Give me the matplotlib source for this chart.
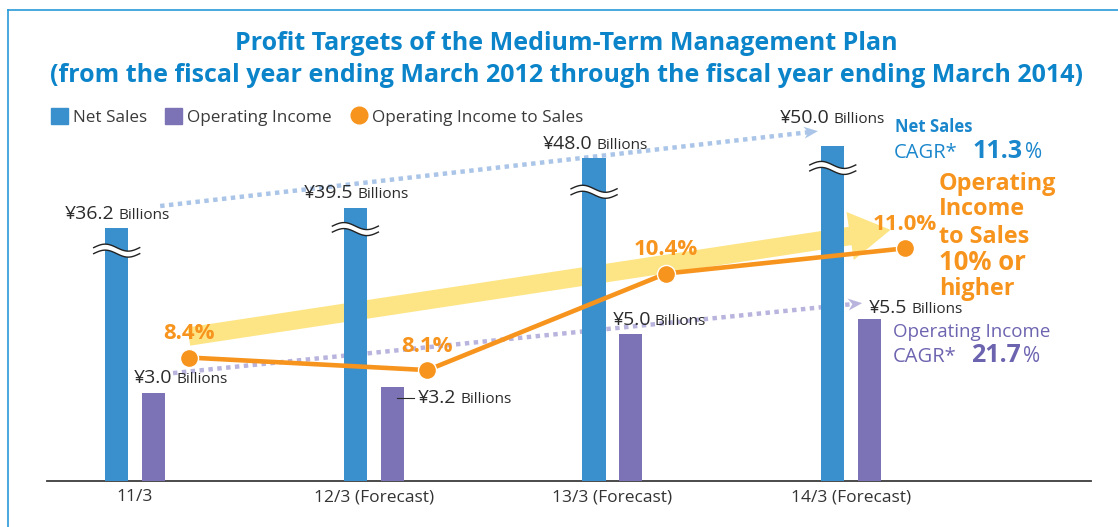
import numpy as np
import matplotlib
matplotlib.use("Agg")
import matplotlib.pyplot as plt
from matplotlib.patches import Patch, Polygon
from matplotlib.lines import Line2D

# data (billions of yen / %)
categories = ["11/3", "12/3 (Forecast)", "13/3 (Forecast)", "14/3 (Forecast)"]
net_sales = [36.2, 39.5, 48.0, 50.0]
operating_income = [3.0, 3.2, 5.0, 5.5]
income_to_sales = [8.4, 8.1, 10.4, 11.0]
net_sales_cagr = "11.3"
income_cagr = "21.7"

plt.rcParams["font.family"] = ["Open Sans", "DejaVu Sans"]

BLUE = "#3a8fcd"
PURPLE = "#7b73b6"
ORANGE = "#f7941d"
YELLOW = "#fde586"
TITLE = "#0b84ca"
DOT_BLUE = "#aac5e8"
DOT_PURPLE = "#b8b4de"
DARK = "#2b2b2b"

W, H = 1118, 527
fig = plt.figure(figsize=(W / 100, H / 100), dpi=100)


def fp(x, y):
    # pixel position (from top-left) -> figure fraction
    return x / W, 1 - y / H


# plot area in pixels
left, right, base, top = 47, 1091, 481, 100
ax = fig.add_axes([left / W, 1 - base / H, (right - left) / W, (base - top) / H])
ax_ns = ax.twinx()
ax_pct = ax.twinx()
for a in (ax_ns, ax_pct):
    a.axis("off")

span = base - top
ax.set_ylim(0, span / 29.4)
ns_floor = -6.6  # net sales axis is broken, bars start below zero
ax_ns.set_ylim(ns_floor, ns_floor + span / 5.92)
ax_pct.set_ylim(5.46, 5.46 + span / 42.0)
for a in (ax, ax_ns, ax_pct):
    a.set_xlim(-0.369, 4.005)

x = np.arange(len(categories))
xb, xp, xl = x - 0.077, x + 0.077, x + 0.225
bw = 0.097


def to_ax(trans, px, py, dx=0, dy=0):
    d = trans.transform((px, py)) + np.array([dx, dy])
    return ax.transData.inverted().transform(d)


# big yellow trend arrow
ax.annotate("", xy=(xl[3] - 0.06, income_to_sales[3] + 0.44),
            xytext=(xl[0], income_to_sales[0] + 0.5),
            xycoords=ax_pct.transData,
            arrowprops=dict(arrowstyle="simple,head_length=2.1,head_width=2.5,tail_width=0.95",
                            mutation_scale=14, color=YELLOW, lw=0, shrinkA=0, shrinkB=0),
            zorder=1)


def dotted_arrow(trans, p0, p1, color):
    d0 = trans.transform(p0)
    d1 = trans.transform(p1)
    u = (d1 - d0) / np.hypot(*(d1 - d0))
    n = np.array([-u[1], u[0]])
    L, w = 14, 12
    notch = d1 - L * 0.7 * u
    a0 = ax.transData.inverted().transform(d0)
    a1 = ax.transData.inverted().transform(notch)
    ax.plot([a0[0], a1[0]], [a0[1], a1[1]], color=color, lw=3.2,
            ls=(0, (1, 1)), dash_capstyle="butt", zorder=2)
    pts = [d1, d1 - L * u + w / 2 * n, notch, d1 - L * u - w / 2 * n]
    pts = ax.transData.inverted().transform(np.array(pts))
    ax.add_patch(Polygon(pts, closed=True, color=color, lw=0, zorder=2))


dotted_arrow(ax_ns.transData, (x[0] + 0.105, net_sales[0] + 3.65),
             (x[3] - 0.139, net_sales[3] + 2.5), DOT_BLUE)
dotted_arrow(ax.transData, (x[0] + 0.159, operating_income[0] + 0.67),
             (x[3] + 0.046, operating_income[3] + 0.55), DOT_PURPLE)

# bars
ax.bar(xb, np.array(net_sales) - ns_floor, bottom=ns_floor, width=bw,
       color=BLUE, transform=ax_ns.transData, zorder=3)
ax.bar(xp, operating_income, width=bw, color=PURPLE, zorder=3)

# wavy break marks on the net sales bars
break_px = [23, 21, 34, 22]
t = np.linspace(0, 1, 80)
for xi, v, off in zip(xb, net_sales, break_px):
    wave = 3.5 * np.sin(2 * np.pi * t)
    dxs = -23 + 46 * t
    upper = np.array([to_ax(ax_ns.transData, xi, v, dx, -off + 3 + dy) for dx, dy in zip(dxs, wave)])
    lower = np.array([to_ax(ax_ns.transData, xi, v, dx, -off - 3 + dy) for dx, dy in zip(dxs, wave)])
    ax.fill(np.r_[upper[:, 0], lower[::-1, 0]], np.r_[upper[:, 1], lower[::-1, 1]],
            color="white", lw=0, zorder=4)
    ax.plot(upper[:, 0], upper[:, 1], color="#222222", lw=1.0, zorder=4)
    ax.plot(lower[:, 0], lower[:, 1], color="#222222", lw=1.0, zorder=4)

# operating income to sales line
ax.plot(xl, income_to_sales, transform=ax_pct.transData, color=ORANGE, lw=3.3,
        marker="o", ms=13, mec="white", mew=1, zorder=5)
for xi, v in zip(xl, income_to_sales):
    ax.annotate(f"{v:.1f}%", (xi, v), xycoords=ax_pct.transData, xytext=(0, 24),
                textcoords="offset pixels", ha="center", va="center",
                fontsize=16, fontweight="bold", color=ORANGE, zorder=6)


def money(trans, xi, v, dx, dy):
    kw = dict(xy=(xi, v), xycoords=trans, textcoords="offset pixels",
              va="baseline", color=DARK, zorder=6)
    ax.annotate(f"¥{v:.1f}", xytext=(dx, dy), ha="right", fontsize=14, **kw)
    ax.annotate("Billions", xytext=(dx + 4, dy), ha="left", fontsize=11, **kw)


ns_off = [(-2, 9), (-2, 10), (-2, 9), (-3, 23)]
for xi, v, (dx, dy) in zip(xb, net_sales, ns_off):
    money(ax_ns.transData, xi, v, dx, dy)

oi_off = [(19, 10), (64, -16), (20, 9), (38, 6)]
for xi, v, (dx, dy) in zip(xp, operating_income, oi_off):
    money(ax.transData, xi, v, dx, dy)
p0 = to_ax(ax.transData, xp[1], operating_income[1], 5, -11)
p1 = to_ax(ax.transData, xp[1], operating_income[1], 22, -11)
ax.plot([p0[0], p1[0]], [p0[1], p1[1]], color=DARK, lw=0.8, zorder=6)

# axis styling
ax.set_xticks(x)
ax.set_xticklabels(categories, fontsize=12.5, color="#333333")
ax.tick_params(axis="x", length=0, pad=6)
ax.set_yticks([])
for s in ("left", "right", "top"):
    ax.spines[s].set_visible(False)
ax.spines["bottom"].set_color("#3c3c3c")
ax.spines["bottom"].set_linewidth(1.3)
ax.patch.set_alpha(0)

# title
fig.text(*fp(566, 43), "Profit Targets of the Medium-Term Management Plan",
         ha="center", va="center", fontsize=18, fontweight="bold", color=TITLE)
fig.text(*fp(566, 75), "(from the fiscal year ending March 2012 through the fiscal year ending March 2014)",
         ha="center", va="center", fontsize=18, fontweight="bold", color=TITLE)

# legend
handles = [Patch(color=BLUE), Patch(color=PURPLE),
           Line2D([], [], ls="none", marker="o", ms=12, color=ORANGE)]
fig.legend(handles, ["Net Sales", "Operating Income", "Operating Income to Sales"],
           loc="center left", bbox_to_anchor=fp(51, 117), ncol=3, frameon=False,
           fontsize=12.3, handlelength=1.0, handleheight=1.0, handletextpad=0.3,
           columnspacing=1.05, borderaxespad=0, borderpad=0, labelcolor="#3a3a3a")

# right side notes
NS_C, OI_C = "#1a86cc", "#6d64b0"
fig.text(*fp(895, 132), "Net Sales", fontsize=12, fontweight="bold", color=NS_C, va="baseline")
fig.text(*fp(894, 158), "CAGR*", fontsize=14.5, color=NS_C, va="baseline")
fig.text(*fp(972, 158), net_sales_cagr, fontsize=18, fontweight="bold", color=NS_C, va="baseline")
fig.text(*fp(1025, 158), "%", fontsize=15, color=NS_C, va="baseline")

for txt, y, fs in [("Operating", 190, 16.8), ("Income", 215, 16.8), ("to Sales", 243, 16.8),
                   ("10% or", 270, 18.5), ("higher", 295, 16.8)]:
    fig.text(*fp(939, y), txt, fontsize=fs, fontweight="bold", color=ORANGE, va="baseline")

fig.text(*fp(893, 337), "Operating Income", fontsize=13.5, color=OI_C, va="baseline")
fig.text(*fp(893, 362), "CAGR*", fontsize=14.5, color=OI_C, va="baseline")
fig.text(*fp(971, 362), income_cagr, fontsize=18, fontweight="bold", color=OI_C, va="baseline")
fig.text(*fp(1023, 362), "%", fontsize=15, color=OI_C, va="baseline")

# frame
fig.add_artist(Line2D([8 / W, 8 / W], [0, 1 - 10 / H], transform=fig.transFigure, color="#2a9ad8", lw=1.2))
fig.add_artist(Line2D([8 / W, 1], [1 - 10 / H, 1 - 10 / H], transform=fig.transFigure, color="#2a9ad8", lw=1.2))

fig.savefig("out.png", dpi=100)
